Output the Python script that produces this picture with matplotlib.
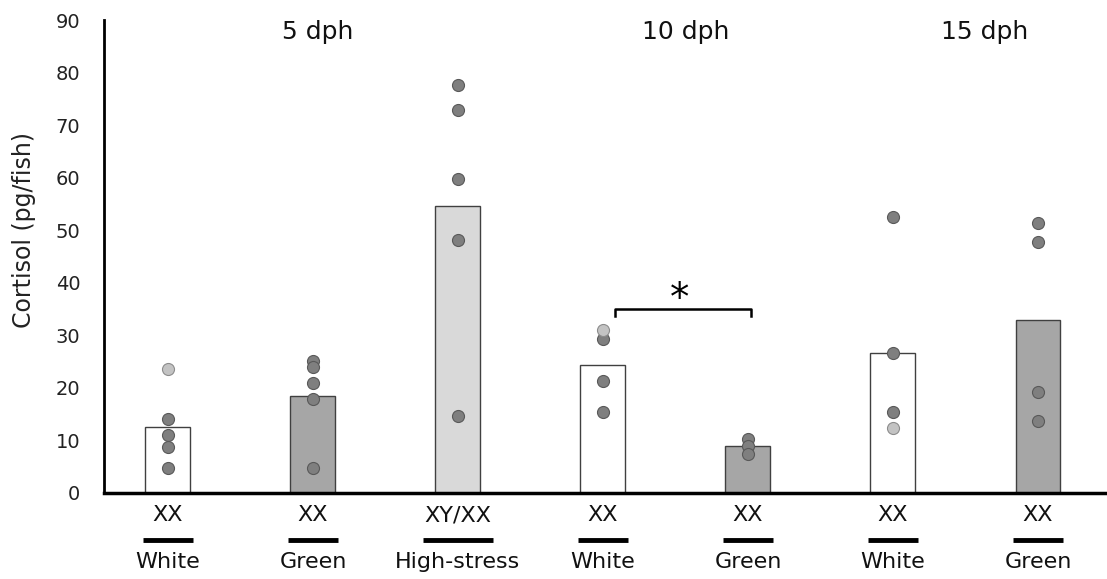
"""Cortisol levels per fish across light conditions and developmental stages."""

import matplotlib.pyplot as plt
from matplotlib.transforms import blended_transform_factory

genotypes = ["XX", "XX", "XY/XX", "XX", "XX", "XX", "XX"]
conditions = ["White", "Green", "High-stress", "White", "Green", "White", "Green"]
stages = ["5 dph", "10 dph", "15 dph"]
stage_centers = [1.03, 3.57, 5.63]

# bar heights (group means)
means = [12.5, 18.4, 54.6, 24.3, 8.9, 26.6, 32.9]

# individual samples, dark-grey dots
samples = [
    [14.1, 11.0, 8.7, 4.75],
    [25.1, 24.0, 20.9, 17.9, 4.75],
    [77.6, 72.8, 59.7, 48.1, 14.6],
    [29.3, 21.3, 15.4],
    [10.3, 8.9, 7.4],
    [52.5, 26.6, 15.4],
    [51.3, 47.7, 19.2, 13.7],
]
# individual samples, light-grey dots
light_samples = [[23.6], [], [], [31.0], [], [12.4], []]

bar_colors = ["white", "#a6a6a6", "#d9d9d9", "white", "#a6a6a6", "white", "#a6a6a6"]


def draw_chart():
    fig = plt.figure(figsize=(11.07, 5.79), dpi=100)
    ax = fig.add_axes([104 / 1107, 1 - 493 / 579, 1 - 104 / 1107, (493 - 20) / 579])

    x = list(range(len(means)))
    ax.bar(x, means, width=0.31, color=bar_colors, edgecolor="#404040", linewidth=1.0, zorder=2)

    for xi, vals in zip(x, samples):
        ax.scatter([xi] * len(vals), vals, s=75, color="#7f7f7f", edgecolor="#595959",
                   linewidth=0.8, zorder=3, clip_on=False)
    for xi, vals in zip(x, light_samples):
        if vals:
            ax.scatter([xi] * len(vals), vals, s=75, color="#c3c3c3", edgecolor="#8c8c8c",
                       linewidth=0.8, zorder=3, clip_on=False)

    ax.set_xlim(-0.441, 6.476)
    ax.set_ylim(0, 90)
    ax.set_yticks(range(0, 91, 10))
    ax.set_xticks([])
    ax.tick_params(axis="y", length=0, labelsize=14, pad=17, colors="#222222")
    ax.set_ylabel("Cortisol (pg/fish)", fontsize=17, color="#222222")
    ax.yaxis.set_label_coords(-0.068, 0.555)
    for side in ["top", "right"]:
        ax.spines[side].set_visible(False)
    ax.spines["left"].set_linewidth(2)
    ax.spines["bottom"].set_linewidth(2.5)

    trans = blended_transform_factory(ax.transData, ax.transAxes)

    # developmental stage headers
    for xc, stage in zip(stage_centers, stages):
        ax.text(xc, 0.975, stage, transform=trans, ha="center", va="center",
                fontsize=18, color="#111111")

    # genotype, underline and light condition beneath each bar
    for xi, geno, cond in zip(x, genotypes, conditions):
        ax.text(xi, -0.047, geno, transform=trans, ha="center", va="center", fontsize=16, color="#111111")
        half = 0.24 if cond == "High-stress" else 0.17
        ax.plot([xi - half, xi + half], [-0.0994, -0.0994], transform=trans, color="black",
                linewidth=3.5, solid_capstyle="butt", clip_on=False)
        ax.text(xi, -0.146, cond, transform=trans, ha="center", va="center", fontsize=16, color="#111111")

    # significance bracket between White and Green at 10 dph
    ax.plot([3.08, 3.08, 4.02, 4.02], [33.6, 35.0, 35.0, 33.6], color="black", linewidth=1.8, zorder=4)
    ax.text(3.53, 37.0, "*", ha="center", va="center", fontsize=28, color="black")

    plt.savefig("out.png", dpi=100)


if __name__ == "__main__":
    draw_chart()
